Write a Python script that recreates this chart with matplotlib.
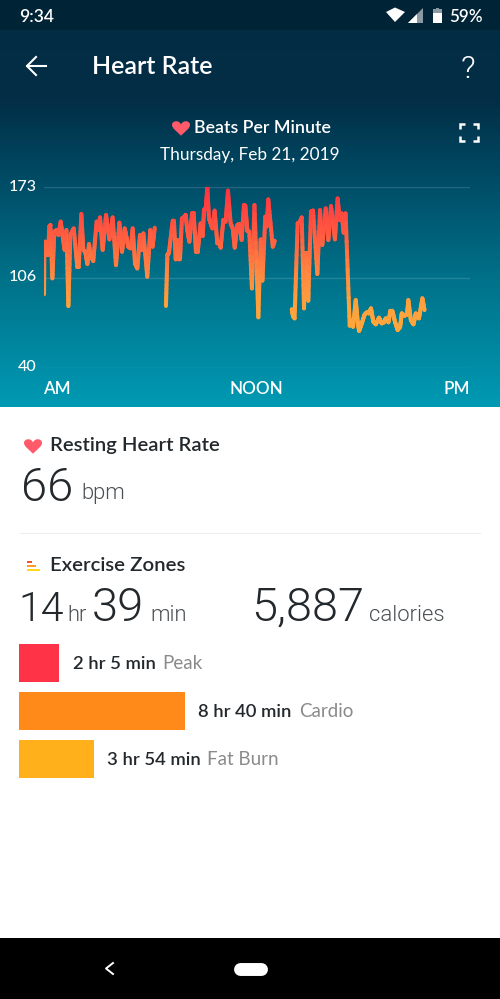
import numpy as np
import matplotlib
matplotlib.use("Agg")
import matplotlib.pyplot as plt
from matplotlib.collections import LineCollection
from matplotlib.colors import LinearSegmentedColormap
from matplotlib.patches import PathPatch, Polygon, Rectangle
from matplotlib.path import Path
from matplotlib.transforms import ScaledTranslation

# heart rate trace, three stretches with gaps between them
hours_1 = [.03,.05,.10,.18,.25,.33,.39,.50,.61,.74,.84,.97,1.08,1.19,1.29,1.40,1.51,1.70,1.90,1.98,2.13,2.24,2.35,2.47,2.56,2.65,2.75,2.80,2.99,3.10,3.18,3.33,3.52,3.71,3.89,4.08,4.27,4.42,4.57,4.68,4.77,4.91,5.02,5.15,5.28,5.43,5.53,5.62,5.84,6.01,6.14,6.26]
bpm_1 = [94,131.5,132.7,122.9,122.9,143.8,145,105.7,140,141.3,137.6,147.5,136.4,126.6,141.3,85.3,137.6,142.5,114.3,114.3,153.1,126.6,125.3,116.3,131,120.4,120.4,118.5,147.5,141.3,150.6,126.6,152.4,134.4,150.6,115.5,146.7,125.3,142.5,135.2,129,127.8,142.5,116.7,113,137.6,126.6,138.8,106.9,141.3,129,143]
hours_2 = [6.89,6.97,7.06,7.27,7.34,7.44,7.53,7.61,7.68,7.79,7.91,8.0,8.09,8.21,8.36,8.45,8.58,8.68,8.84,8.96,9.03,9.13,9.22,9.31,9.5,9.63,9.78,9.88,9.97,10.12,10.25,10.38,10.53,10.65,10.76,10.91,11.02,11.15,11.28,11.36,11.47,11.58,11.73,11.87,12.09,12.22,12.32,12.48,12.56,12.65,12.9,13.01]
bpm_2 = [85.3,122.9,124.6,148.2,148.2,119.7,134,119.7,119.7,149.9,150.6,152.4,141.3,132.7,153.6,153.6,125.3,125.3,146.2,136.9,156,157.3,172.8,149.9,142.5,155.6,131.5,132.7,128.3,148.7,147.5,170.3,146.2,142.5,128.3,145,145.7,134,159.7,159,140.8,140,98.3,159.7,77,134.4,104,151.2,143.8,163.9,129,133.4]
hours_3 = [13.97,14.04,14.13,14.30,14.42,14.53,14.66,14.73,14.83,14.9,15.05,15.17,15.41,15.56,15.69,15.88,16.03,16.18,16.4,16.55,16.67,16.78,16.89,17.0,17.23,17.35,17.42,17.57,17.68,17.76,17.91,18.06,18.19,18.32,18.43,18.56,18.70,18.88,19.03,19.15,19.26,19.41,19.52,19.63,19.78,19.93,20.07,20.16,20.31,20.46,20.53,20.67,20.82,20.95,21.13,21.32,21.44]
bpm_3 = [83,78,76.2,146.2,147,150.6,83.6,124.1,124.1,89.2,154.8,155.6,108.9,156,130.3,157.3,133.9,159,134.4,164.6,148.7,153.6,139.3,153.6,70.8,75,70,89.7,73.7,66.9,72.5,78.7,80.6,79.9,83.6,73.7,71.8,76.7,72.5,73.3,76.2,73.3,81.8,81.8,73.7,67.6,70,79.9,78.2,79.2,89.7,75,71.8,79.9,76.2,91,82.3]

y_ticks = [40, 106, 173]
x_ticks = [0, 12, 24]
x_labels = ["AM", "NOON", "PM"]

zone_names = ["Peak", "Cardio", "Fat Burn"]
zone_minutes = [125, 520, 234]
zone_labels = ["2 hr 5 min", "8 hr 40 min", "3 hr 54 min"]
zone_colors = ["#FF3347", "#FF8A1A", "#FFB01A"]

W, H = 500, 999
plt.rcParams["font.family"] = ["Lato", "DejaVu Sans"]

fig = plt.figure(figsize=(W / 100, H / 100), dpi=100)

# whole screen in pixel coords, for the app chrome
bg = fig.add_axes([0, 0, 1, 1], zorder=0)
stops_y = [0, 100, 170, 280, 407]
stops_c = [(2, 44, 68), (3, 46, 70), (0, 72, 98), (0, 114, 138), (0, 154, 180)]
rows = np.arange(0, 407)
grad = np.stack([np.interp(rows, stops_y, [c[i] for c in stops_c]) for i in range(3)], axis=1) / 255
bg.imshow(grad[:, None, :], extent=[0, W, 407, 0], aspect="auto", zorder=0)
bg.set_xlim(0, W)
bg.set_ylim(H, 0)
bg.axis("off")
bg.add_patch(Rectangle((0, 0), W, 30, fc="black", alpha=0.2, lw=0, zorder=1))
bg.add_patch(Rectangle((0, 407), W, 531, fc="white", lw=0, zorder=1))
bg.add_patch(Rectangle((0, 938), W, 61, fc="black", lw=0, zorder=1))


def label(x, y, s, size, color="white", weight=400, ha="left", family="Lato"):
    bg.text(x, y, s, fontsize=size * 0.72, color=color, fontweight=weight, ha=ha, va="baseline", zorder=5, family=family)


def big(x, y, s, size=47, color="#23282C"):
    label(x, y, s, size, color=color, weight=300, family="Roboto")


def unit(x, y, s):
    label(x, y, s, 22, color="#4A4F53", weight=300, family="Roboto")


def heart(cx, cy, w, color="#FF5A6A"):
    # two lobes and a point, size in pixels
    r = w / 2
    verts = [(cx, cy + r * 0.85),
             (cx - r * 0.5, cy + r * 0.35), (cx - r, cy + r * 0.05), (cx - r, cy - r * 0.35),
             (cx - r, cy - r * 0.8), (cx - r * 0.25, cy - r * 0.95), (cx, cy - r * 0.4),
             (cx + r * 0.25, cy - r * 0.95), (cx + r, cy - r * 0.8), (cx + r, cy - r * 0.35),
             (cx + r, cy + r * 0.05), (cx + r * 0.5, cy + r * 0.35), (cx, cy + r * 0.85)]
    codes = [Path.MOVETO] + [Path.CURVE4] * 12
    bg.add_patch(PathPatch(Path(verts, codes), fc=color, lw=0, zorder=5))


# status bar
label(19, 22, "9:34", 17.5, weight=600)
label(449, 22, "59%", 17, weight=600)
bg.add_patch(Polygon([(386, 12), (395, 22), (405, 12), (395, 7.5)], fc="white", lw=0, zorder=5))
bg.add_patch(Polygon([(408, 23), (423, 8), (423, 23)], fc="#8A9AA4", lw=0, zorder=5))
bg.add_patch(Polygon([(408, 23), (417, 14), (417, 23)], fc="white", lw=0, zorder=5))
bg.add_patch(Rectangle((433, 9), 9, 14, fc="#8A9AA4", lw=0, zorder=5))
bg.add_patch(Rectangle((433, 13), 9, 10, fc="white", lw=0, zorder=5))
bg.add_patch(Rectangle((436, 7.5), 3, 2, fc="#8A9AA4", lw=0, zorder=5))

# app bar
bg.plot([27, 46], [66, 66], color="white", lw=1.5, zorder=5)
bg.plot([36, 27, 36], [57, 66, 75], color="white", lw=1.5, zorder=5)
label(92, 74, "Heart Rate", 25, weight=600)
label(468, 78, "?", 32, ha="center", weight=300, family="Roboto")

# chart heading
heart(181, 128, 18)
label(194, 133, "Beats Per Minute", 17.8, weight=600)
label(250, 160, "Thursday, Feb 21, 2019", 17.2, ha="center")
for (x, y, dx, dy) in [(460, 124, 1, 1), (478, 124, -1, 1), (460, 141, 1, -1), (478, 141, -1, -1)]:
    bg.plot([x + dx * 5, x, x], [y, y, y + dy * 5], color="white", lw=1.8, solid_joinstyle="miter", solid_capstyle="butt", zorder=5)

# the chart
ax = fig.add_axes([43.5 / W, 1 - 367.5 / H, 426.5 / W, 180.5 / H], zorder=2)
ax.patch.set_visible(False)
ax.set_xlim(0, 24)
ax.set_ylim(40, 173)
for s in ax.spines.values():
    s.set_visible(False)
ax.set_yticks(y_ticks)
ax.set_xticks(x_ticks)
ax.set_xticklabels(x_labels)
ax.tick_params(length=0, colors="white")
ax.tick_params(axis="y", pad=5, labelsize=16 * 0.72)
ax.tick_params(axis="x", pad=9.5, labelsize=17 * 0.72)
ax.grid(axis="y", color="white", alpha=0.14, lw=1)
ax.set_axisbelow(True)
xt = ax.get_xticklabels()
xt[0].set_ha("left")
xt[2].set_ha("right")
shift = ScaledTranslation(0, 2 / 100, fig.dpi_scale_trans)
for t in xt:
    t.set_fontweight(600)
for t in ax.get_yticklabels():
    t.set_transform(t.get_transform() + shift)
    t.set_fontweight(500)

cmap = LinearSegmentedColormap.from_list("hr", ["#FFA83C", "#FFA03C", "#FF8A40", "#FF6640", "#FF4A40", "#FF3040"])
for xs, ys in [(hours_1, bpm_1), (hours_2, bpm_2), (hours_3, bpm_3)]:
    segs = []
    mids = []
    # split each segment so the colour can follow the height
    for i in range(len(xs) - 1):
        tx = np.linspace(xs[i], xs[i + 1], 13)
        ty = np.linspace(ys[i], ys[i + 1], 13)
        for j in range(12):
            segs.append([(tx[j], ty[j]), (tx[j + 1], ty[j + 1])])
            mids.append((ty[j] + ty[j + 1]) / 2)
    lc = LineCollection(segs, cmap=cmap, norm=plt.Normalize(66, 173), linewidths=2.9, capstyle="round", joinstyle="round")
    lc.set_array(np.array(mids))
    ax.add_collection(lc)

# resting heart rate
DARK = "#23282C"
heart(33, 446, 18)
label(50, 451, "Resting Heart Rate", 20.3, color=DARK, weight=600)
big(21, 501, "66")
unit(81, 499, "bpm")
bg.plot([20, 480], [533, 533], color="#EEEEEE", lw=0.8, zorder=2)

# exercise zones
for y, x1, c in [(562, 32, "#F0522A"), (566, 36, "#FF9A2A"), (570, 40, "#FFD81A")]:
    bg.add_patch(Rectangle((27, y - 1), x1 - 27, 2.2, fc=c, lw=0, zorder=5))
label(50, 571, "Exercise Zones", 20.4, color=DARK, weight=600)
big(18, 621, "14", size=41)
unit(67, 621, "hr")
big(92, 621, "39")
unit(150, 621, "min")
big(251, 621, "5,887")
unit(369, 621, "calories")

# zone bars
ax2 = fig.add_axes([19 / W, 1 - 783 / H, 320 / W, 144 / H], zorder=2)
ax2.patch.set_visible(False)
ax2.axis("off")
ax2.barh(range(3), zone_minutes, height=38 / 48, color=zone_colors)
ax2.set_xlim(0, 1000)
ax2.set_ylim(2.5, -0.5)

label_x = [73, 198, 107]
name_x = [162, 299, 207]
for i in range(3):
    y = 669 + 48 * i
    label(label_x[i], y, zone_labels[i], 18.5, color=DARK, weight=600)
    label(name_x[i], y, zone_names[i], 18.8, color="#8A8A8A")

# nav bar
bg.plot([113, 106, 113], [963, 968.5, 974], color="white", lw=1.4, zorder=5)
bg.plot([239.5, 260.5], [968.5, 968.5], color="white", lw=9.3, solid_capstyle="round", zorder=5)

fig.savefig("out.png", dpi=100)
